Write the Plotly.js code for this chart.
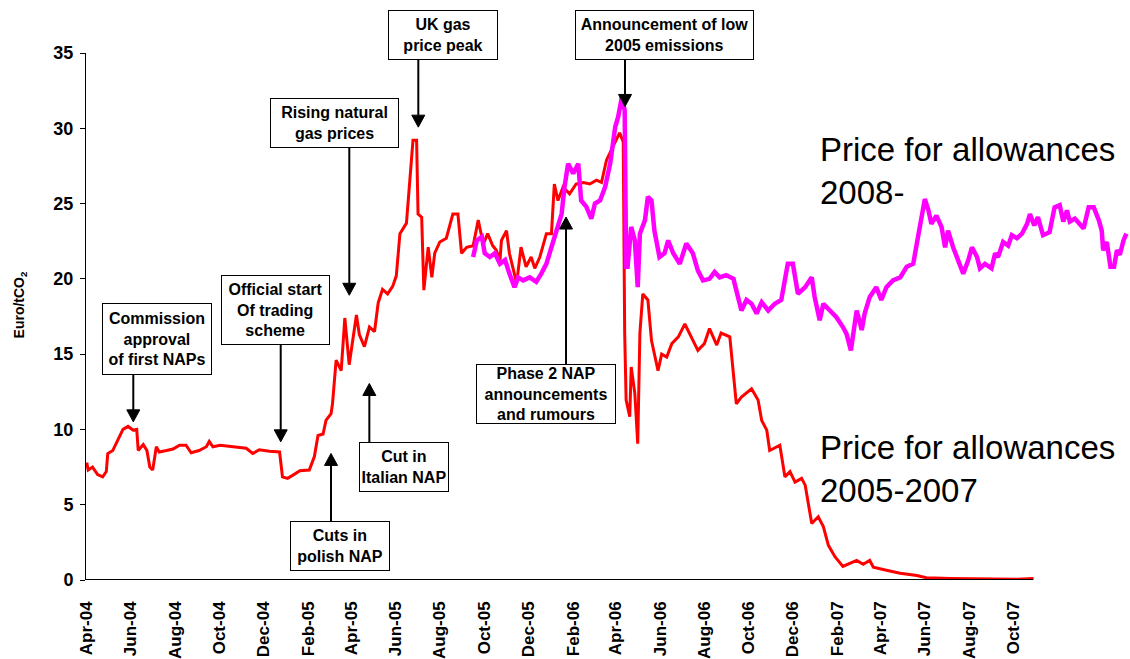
<!DOCTYPE html>
<html>
<head>
<meta charset="utf-8">
<script src="https://cdn.plot.ly/plotly-3.0.1.min.js"></script>
<style>html,body{margin:0;padding:0;background:#fff;}#chart{width:1130px;height:659px;}</style>
</head>
<body>
<div id="chart"></div>
<script>
// Price for allowances 2005-2007 (Euro/tCO2)
const phase1Dates = ['2004-04-01','2004-04-03','2004-04-09','2004-04-16','2004-04-23','2004-04-28','2004-04-30','2004-05-07','2004-05-14','2004-05-21','2004-05-28','2004-06-04','2004-06-09','2004-06-11','2004-06-18','2004-06-23','2004-06-27','2004-07-01','2004-07-06','2004-07-10','2004-07-20','2004-07-29','2004-08-07','2004-08-16','2004-08-23','2004-09-03','2004-09-13','2004-09-17','2004-09-22','2004-10-02','2004-10-20','2004-11-07','2004-11-16','2004-11-25','2004-12-09','2004-12-23','2004-12-27','2005-01-03','2005-01-10','2005-01-20','2005-02-02','2005-02-09','2005-02-14','2005-02-21','2005-02-25','2005-03-04','2005-03-06','2005-03-11','2005-03-18','2005-03-23','2005-03-29','2005-04-03','2005-04-08','2005-04-12','2005-04-19','2005-04-26','2005-05-03','2005-05-08','2005-05-14','2005-05-21','2005-05-28','2005-06-02','2005-06-07','2005-06-16','2005-06-21','2005-06-25','2005-06-30','2005-07-02','2005-07-07','2005-07-10','2005-07-16','2005-07-21','2005-07-25','2005-08-01','2005-08-10','2005-08-19','2005-08-26','2005-08-31','2005-09-07','2005-09-16','2005-09-23','2005-09-30','2005-10-06','2005-10-13','2005-10-18','2005-10-23','2005-10-25','2005-11-01','2005-11-05','2005-11-15','2005-11-21','2005-11-28','2005-12-05','2005-12-10','2005-12-17','2005-12-26','2006-01-02','2006-01-06','2006-01-11','2006-01-18','2006-01-27','2006-02-05','2006-02-15','2006-02-24','2006-03-05','2006-03-12','2006-03-19','2006-03-28','2006-04-06','2006-04-11','2006-04-13','2006-04-15','2006-04-20','2006-04-22','2006-04-27','2006-05-01','2006-05-04','2006-05-08','2006-05-15','2006-05-20','2006-05-29','2006-06-03','2006-06-10','2006-06-17','2006-06-26','2006-07-05','2006-07-14','2006-07-23','2006-08-01','2006-08-08','2006-08-18','2006-08-24','2006-09-05','2006-09-10','2006-09-14','2006-09-21','2006-10-05','2006-10-14','2006-10-19','2006-10-26','2006-10-30','2006-11-13','2006-11-20','2006-11-27','2006-12-04','2006-12-13','2006-12-18','2006-12-27','2007-01-05','2007-01-12','2007-01-19','2007-01-28','2007-02-08','2007-02-27','2007-03-08','2007-03-17','2007-03-22','2007-04-09','2007-04-28','2007-05-21','2007-06-03','2007-07-06','2007-08-20','2007-09-22','2007-10-06','2007-10-29'];
const phase1Values = [7.8,7.3,7.5,7.0,6.85,7.2,8.4,8.6,9.3,10.0,10.2,9.95,10.0,8.6,9.0,8.6,7.5,7.3,8.85,8.5,8.6,8.7,8.95,8.95,8.45,8.6,8.85,9.2,8.85,8.95,8.85,8.75,8.4,8.65,8.55,8.5,6.85,6.75,6.95,7.25,7.3,8.2,9.6,9.7,10.6,11.05,11.7,14.6,13.9,17.4,14.3,16.0,17.6,16.3,15.5,16.8,16.5,18.4,19.3,19.0,19.5,20.2,23.0,23.7,26.5,29.2,29.2,24.3,24.1,19.25,22.1,20.1,21.7,22.45,22.7,24.3,24.3,21.7,22.1,22.2,23.9,22.3,23.0,22.2,21.9,21.2,22.55,23.2,21.7,19.7,22.1,20.8,21.45,20.7,21.45,23.0,23.0,26.3,25.2,26.1,25.65,26.3,26.4,26.3,26.55,26.4,27.9,28.75,29.7,29.1,16.4,11.95,10.85,14.15,12.4,9.05,16.4,19.0,18.6,15.9,13.9,15.0,14.8,15.7,16.15,17.0,16.15,15.25,15.7,16.7,15.6,16.4,16.15,13.5,11.7,12.15,12.7,11.95,10.6,9.95,8.6,8.95,6.85,7.2,6.5,6.75,6.3,3.75,4.2,3.55,2.3,1.55,0.9,1.3,1.05,1.3,0.85,0.65,0.45,0.3,0.15,0.1,0.08,0.08,0.05,0.1];

// Price for allowances 2008- (Euro/tCO2)
const phase2Dates = ['2005-09-16','2005-09-21','2005-09-28','2005-10-02','2005-10-09','2005-10-16','2005-10-23','2005-10-30','2005-11-05','2005-11-12','2005-11-17','2005-11-24','2005-12-03','2005-12-12','2005-12-19','2005-12-26','2006-01-02','2006-01-09','2006-01-16','2006-01-20','2006-01-25','2006-02-01','2006-02-08','2006-02-12','2006-02-19','2006-02-26','2006-03-03','2006-03-10','2006-03-17','2006-03-24','2006-03-31','2006-04-04','2006-04-09','2006-04-13','2006-04-15','2006-04-17','2006-04-22','2006-04-27','2006-05-01','2006-05-04','2006-05-11','2006-05-15','2006-05-20','2006-05-24','2006-05-31','2006-06-07','2006-06-12','2006-06-19','2006-06-28','2006-07-07','2006-07-16','2006-07-23','2006-07-30','2006-08-08','2006-08-15','2006-08-22','2006-08-31','2006-09-10','2006-09-17','2006-09-21','2006-09-28','2006-10-05','2006-10-12','2006-10-19','2006-10-28','2006-11-06','2006-11-15','2006-11-24','2006-12-01','2006-12-08','2006-12-18','2006-12-27','2006-12-31','2007-01-07','2007-01-12','2007-01-21','2007-01-30','2007-02-08','2007-02-13','2007-02-19','2007-02-27','2007-03-06','2007-03-10','2007-03-17','2007-03-26','2007-04-02','2007-04-09','2007-04-18','2007-04-28','2007-05-07','2007-05-16','2007-05-21','2007-05-28','2007-06-01','2007-06-06','2007-06-10','2007-06-17','2007-06-24','2007-06-29','2007-07-03','2007-07-10','2007-07-17','2007-07-24','2007-07-31','2007-08-05','2007-08-12','2007-08-16','2007-08-23','2007-09-01','2007-09-06','2007-09-10','2007-09-17','2007-09-24','2007-09-29','2007-10-06','2007-10-13','2007-10-20','2007-10-24','2007-10-30','2007-11-04','2007-11-11','2007-11-20','2007-11-27','2007-12-04','2007-12-09','2007-12-14','2007-12-18','2007-12-25','2008-01-06','2008-01-13','2008-01-20','2008-01-27','2008-01-31','2008-02-02','2008-02-07','2008-02-12','2008-02-17','2008-02-21','2008-02-25','2008-03-01','2008-03-05'];
const phase2Values = [21.45,22.55,22.8,21.7,21.45,21.7,21.0,21.25,20.35,19.45,20.1,19.9,20.1,19.8,20.35,21.0,22.1,23.2,24.3,26.1,27.65,27.0,27.65,25.2,24.8,24.0,25.0,25.2,26.1,27.65,30.1,30.75,32.05,31.2,20.8,20.8,23.45,22.55,19.45,23.0,23.9,25.45,25.2,23.2,21.45,21.7,22.55,21.7,21.0,22.35,21.7,20.55,19.9,20.0,20.45,20.1,20.25,20.0,18.8,17.9,18.6,18.35,17.7,18.45,17.9,18.35,18.6,21.0,21.0,19.0,19.45,20.1,18.8,17.25,18.35,17.9,17.45,16.8,16.35,15.25,17.9,16.6,17.7,18.8,19.45,18.6,19.45,19.9,20.1,20.8,21.0,22.35,24.1,25.3,24.55,23.65,24.2,23.45,22.1,23.2,22.1,21.25,20.35,21.25,22.1,21.45,20.7,21.0,20.7,21.7,21.45,22.45,22.2,22.9,22.7,23.0,23.65,24.3,23.55,24.1,22.9,23.1,24.75,24.9,23.8,24.55,23.8,24.0,23.35,24.75,24.75,23.9,23.2,21.9,22.45,20.8,20.8,21.9,21.6,22.55,23.0];

// Axis ticks
const tickDates = ['2004-04-01','2004-06-01','2004-08-01','2004-10-01','2004-12-01','2005-02-01','2005-04-01','2005-06-01','2005-08-01','2005-10-01','2005-12-01','2006-02-01','2006-04-01','2006-06-01','2006-08-01','2006-10-01','2006-12-01','2007-02-01','2007-04-01','2007-06-01','2007-08-01','2007-10-01'];
const tickLabels = ['Apr-04','Jun-04','Aug-04','Oct-04','Dec-04','Feb-05','Apr-05','Jun-05','Aug-05','Oct-05','Dec-05','Feb-06','Apr-06','Jun-06','Aug-06','Oct-06','Dec-06','Feb-07','Apr-07','Jun-07','Aug-07','Oct-07'];
const yTicks = [0,5,10,15,20,25,30,35];

// Event labels
const eventTexts = ['Commission<br>approval<br>of first NAPs','Official start<br>Of trading<br>scheme','Cut in<br>Italian NAP','Cuts in<br>polish NAP','Rising natural<br>gas prices','UK gas<br>price peak','Announcement of low<br>2005 emissions','Phase 2 NAP<br>announcements<br>and rumours'];
const seriesLabels = ['Price for allowances<br>2008-','Price for allowances<br>2005-2007'];

const FONT = 'Liberation Sans, Arial, Helvetica, sans-serif';
const PLOT_W = 1044, PLOT_H = 527.5;

// layout positions (paper coords)
const boxPos = [
  {x:0.0682,y:0.4574,w:108,h:70},
  {x:0.1818,y:0.5128,w:107,h:68},
  {x:0.3044,y:0.2138,w:88,h:48},
  {x:0.2430,y:0.0641,w:98,h:48},
  {x:0.2382,y:0.8677,w:127,h:48},
  {x:0.3418,y:1.0351,w:108,h:48},
  {x:0.5538,y:1.0351,w:177,h:48},
  {x:0.4408,y:0.3532,w:138,h:58}
];
// arrow tip (paper) and tail offset in pixels (positive = below the tip)
const arrowPos = [
  {x:0.0453,y:0.3001,ay:-47.7},
  {x:0.1865,y:0.2622,ay:-97.7},
  {x:0.2714,y:0.3729,ay:59.4},
  {x:0.2347,y:0.2402,ay:68.4},
  {x:0.2522,y:0.5403,ay:-148.3},
  {x:0.3183,y:0.8593,ay:-68},
  {x:0.5163,y:0.8986,ay:-47.3},
  {x:0.4598,y:0.6887,ay:147.3}
];

const annotations = [];
eventTexts.forEach((t,i)=>{
  const b = boxPos[i];
  annotations.push({xref:'paper',yref:'paper',x:b.x,y:b.y,xanchor:'center',yanchor:'middle',
    text:'<b>'+t+'</b>',showarrow:false,width:b.w,height:b.h,borderpad:0,
    bgcolor:'#ffffff',bordercolor:'#000000',borderwidth:1,align:'center',
    font:{family:FONT,size:16,color:'#000'}});
});
annotations.push({xref:'paper',yref:'paper',x:0.7011,y:0.7754,xanchor:'left',yanchor:'middle',align:'left',
  text:seriesLabels[0],showarrow:false,font:{family:FONT,size:33,color:'#000'}});
annotations.push({xref:'paper',yref:'paper',x:0.7011,y:0.2104,xanchor:'left',yanchor:'middle',align:'left',
  text:seriesLabels[1],showarrow:false,font:{family:FONT,size:33,color:'#000'}});
annotations.push({xref:'paper',yref:'paper',x:-0.0632,y:0.521,xanchor:'center',yanchor:'middle',textangle:-90,
  text:'<b>Euro/tCO<sub>2</sub></b>',showarrow:false,font:{family:FONT,size:14,color:'#000'}});

// arrows as shapes: shaft + filled triangular head
const HEAD_LEN = 12, HEAD_HALF = 6.5;
const shapes = [{type:'line',xref:'paper',yref:'y',x0:0,x1:0.907,y0:0,y1:0,line:{color:'#000',width:2}}];
arrowPos.forEach(a=>{
  const dir = a.ay > 0 ? 1 : -1;           // +1: tail below tip (arrow points up)
  const tailY = a.y - a.ay/PLOT_H;
  const baseY = a.y - dir*HEAD_LEN/PLOT_H;
  const hw = HEAD_HALF/PLOT_W;
  shapes.push({type:'line',xref:'paper',yref:'paper',x0:a.x,x1:a.x,y0:tailY,y1:baseY,line:{color:'#000',width:2}});
  shapes.push({type:'path',xref:'paper',yref:'paper',
    path:`M ${a.x-hw} ${baseY} L ${a.x+hw} ${baseY} L ${a.x} ${a.y} Z`,
    fillcolor:'#000',line:{color:'#000',width:1}});
});

const traces = [
  {x:phase1Dates,y:phase1Values,type:'scatter',mode:'lines',line:{color:'#ff0000',width:3},hoverinfo:'skip'},
  {x:phase2Dates,y:phase2Values,type:'scatter',mode:'lines',line:{color:'#ff00ff',width:4.5},hoverinfo:'skip'}
];

const layout = {
  width:1130,height:659,
  margin:{l:86,r:0,t:52.5,b:79},
  paper_bgcolor:'#ffffff',plot_bgcolor:'#ffffff',
  showlegend:false,
  xaxis:{type:'date',range:['2004-03-31','2008-03-10'],tickvals:tickDates,ticktext:tickLabels,
    tickangle:-90,ticks:'',showline:false,showgrid:false,zeroline:false,ticklabelstandoff:17,
    tickfont:{family:FONT,size:17,weight:'bold',color:'#000'}},
  yaxis:{range:[0,35],tickvals:yTicks,ticks:'outside',ticklen:5,tickwidth:1,tickcolor:'#000',
    showline:true,linecolor:'#000',linewidth:1,showgrid:false,zeroline:false,ticklabelstandoff:3,
    tickfont:{family:FONT,size:18,weight:'bold',color:'#000'}},
  shapes:shapes,
  annotations:annotations
};
Plotly.newPlot('chart',traces,layout,{staticPlot:true,displayModeBar:false});
</script>
</body>
</html>
